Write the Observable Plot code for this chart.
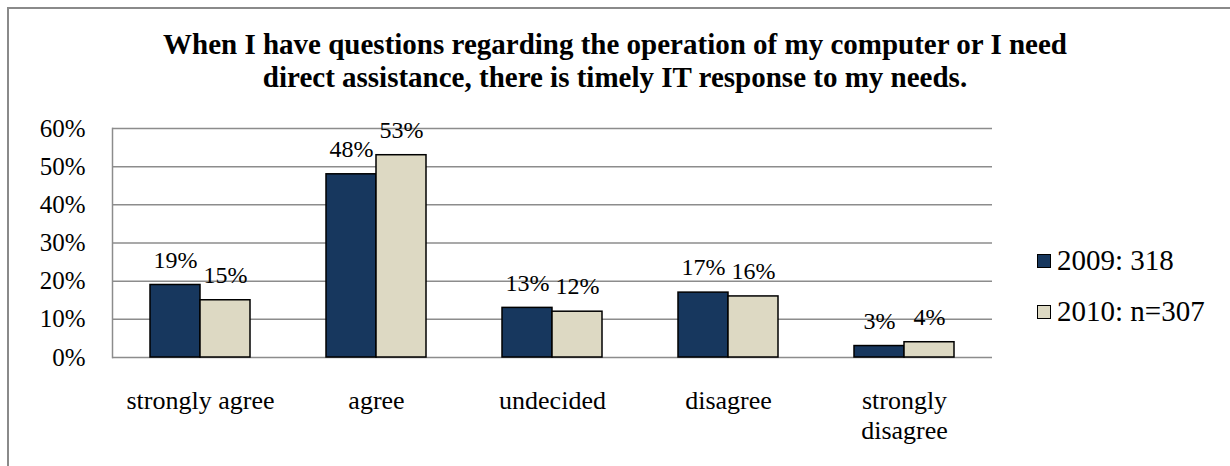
<!DOCTYPE html>
<html>
<head>
<meta charset="utf-8">
<script src="https://cdn.jsdelivr.net/npm/d3@7"></script>
<script src="https://cdn.jsdelivr.net/npm/@observablehq/plot@0.6"></script>
<style>
  body { margin: 0; background: white; font-family: "Liberation Serif", "Times New Roman", serif; }
  #wrap { position: relative; width: 1230px; height: 466px; overflow: hidden; background: white; }
  #border { position: absolute; left: 7px; top: 7px; width: 1400px; height: 600px; border: 2px solid #8a8a8a; box-sizing: border-box; z-index: 2; pointer-events: none; }
  #title { height: 100px; box-sizing: border-box; padding-top: 28px; text-align: center; font-weight: bold; font-size: 29px; line-height: 33px; color: #000; }
  #legend { position: absolute; left: 1037px; top: 235px; font-size: 29px; color: #000; z-index: 3; }
  .item { display: flex; align-items: center; height: 51px; white-space: nowrap; }
  .sw { width: 14px; height: 14px; border: 1.5px solid #000; box-sizing: border-box; margin-right: 6px; }
</style>
</head>
<body>
<div id="wrap">
  <div id="border"></div>
  <div id="title"></div>
  <div id="chart"></div>
  <div id="legend"></div>
</div>
<script>
const titleLines = ["When I have questions regarding the operation of my computer or I need", "direct assistance, there is timely IT response to my needs."];
const categories = ["strongly agree", "agree", "undecided", "disagree", "strongly disagree"];
const categoryLabels = ["strongly agree", "agree", "undecided", "disagree", "strongly\ndisagree"];
const seriesNames = ["2009: 318", "2010: n=307"];
const values2009 = [0.19, 0.48, 0.13, 0.17, 0.03];
const values2010 = [0.15, 0.53, 0.12, 0.16, 0.04];
const seriesColors = ["#17375E", "#DDD9C3"];
const yTicks = [0, 0.1, 0.2, 0.3, 0.4, 0.5, 0.6];

document.getElementById("title").innerHTML = titleLines.join("<br>");

const rows = [];
categories.forEach((c, i) => {
  rows.push({category: c, series: seriesNames[0], value: values2009[i]});
  rows.push({category: c, series: seriesNames[1], value: values2010[i]});
});

const labelOf = new Map(categories.map((c, i) => [c, categoryLabels[i]]));

const chart = Plot.plot({
  width: 1230,
  height: 366,
  marginLeft: 110,
  marginRight: 236,
  marginTop: 28,
  marginBottom: 109,
  style: {fontFamily: "Liberation Serif, Times New Roman, serif", background: "transparent", color: "#000"},
  fx: {domain: categories, padding: 0, axis: null},
  x: {domain: seriesNames, paddingInner: 0, paddingOuter: 0.75, axis: null},
  y: {domain: [0, 0.6], axis: null},
  color: {domain: seriesNames, range: seriesColors},
  marks: [
    Plot.gridY(yTicks, {stroke: "#8c8c8c", strokeOpacity: 1, strokeWidth: 1.5}),
    Plot.frame({anchor: "left", facet: "super", stroke: "#8c8c8c", strokeWidth: 1.5}),
    Plot.axisY({ticks: yTicks, tickFormat: d3.format(".0%"), tickSize: 0, tickPadding: 27, fontSize: 25, label: null}),
    Plot.axisFx({anchor: "bottom", tickSize: 0, tickPadding: 30, fontSize: 26, label: null, tickFormat: d => labelOf.get(d), lineHeight: 1.15}),
    Plot.barY(rows, {fx: "category", x: "series", y: "value", fill: "series", stroke: "#000", strokeWidth: 1.5}),
    Plot.text(rows, {fx: "category", x: "series", y: "value", text: d => Math.round(d.value * 100) + "%", dy: -25, fontSize: 24, fill: "#000"})
  ]
});
document.getElementById("chart").appendChild(chart);

const legend = document.getElementById("legend");
seriesNames.forEach((s, i) => {
  const item = document.createElement("div");
  item.className = "item";
  const sw = document.createElement("div");
  sw.className = "sw";
  sw.style.background = seriesColors[i];
  const t = document.createElement("span");
  t.textContent = s;
  item.appendChild(sw);
  item.appendChild(t);
  legend.appendChild(item);
});
</script>
</body>
</html>
